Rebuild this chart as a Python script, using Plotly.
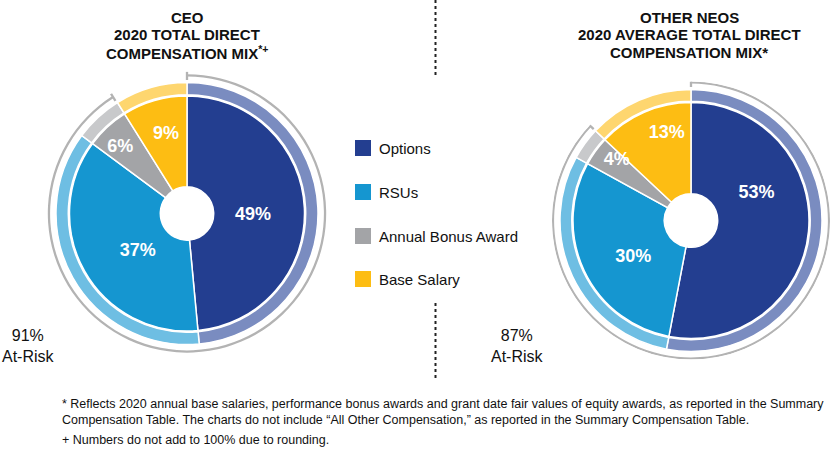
import numpy as np
import plotly.graph_objects as go

# ---------------- data ----------------
categories = ["Options", "RSUs", "Annual Bonus Award", "Base Salary"]
ceo_values = [49, 37, 6, 9]
neo_values = [53, 30, 4, 13]
ceo_at_risk = 91
neo_at_risk = 87
ceo_title = ["CEO", "2020 TOTAL DIRECT", "COMPENSATION MIX<sup>*+</sup>"]
neo_title = ["OTHER NEOS", "2020 AVERAGE TOTAL DIRECT", "COMPENSATION MIX*"]
footnotes = [
    "* Reflects 2020 annual base salaries, performance bonus awards and grant date fair values of equity awards, as reported in the Summary",
    "Compensation Table. The charts do not include \u201cAll Other Compensation,\u201d as reported in the Summary Compensation Table.",
    "+ Numbers do not add to 100% due to rounding.",
]

# ---------------- style ----------------
inner_colors = ["#233E90", "#1596D0", "#A3A4A7", "#FDBD13"]
ring_colors = ["#7A8CC0", "#6EBEE3", "#C8C9CB", "#FED66F"]
arc_color = "#B3B3B3"
FONT = "Arial, Liberation Sans, Helvetica, sans-serif"
W, H = 830, 450

charts = [
    dict(values=ceo_values, at_risk=ceo_at_risk, title=ceo_title, cx=187, cy=213.5, D=142,
         r_hole=26.7, r_in=117.5, r_ring=131, tx=187,
         lab_r=[66, 62, 94, 82], lab_dt=[4, -8, -2.4, 1.2], risk_x=28.5),
    dict(values=neo_values, at_risk=neo_at_risk, title=neo_title, cx=691, cy=220.5, D=139,
         r_hole=26.7, r_in=118, r_ring=131, tx=689,
         lab_r=[71, 68.6, 95.4, 90], lab_dt=[-27.9, -7.6, 2.8, 7.7], risk_x=517.5),
]

fig = go.Figure()
annotations = []
shapes = []
layout_polars = {}

for i, c in enumerate(charts):
    pkey = "polar" if i == 0 else f"polar{i+1}"
    vals = np.array(c["values"], dtype=float)
    widths = vals / vals.sum() * 360.0
    mids = np.cumsum(widths) - widths / 2.0

    # inner pie slices
    fig.add_trace(go.Barpolar(
        r=[c["r_in"] - c["r_hole"]] * len(vals), base=c["r_hole"], theta=mids, width=widths,
        marker=dict(color=inner_colors, line=dict(color="white", width=1.5)),
        subplot=pkey, showlegend=False, hoverinfo="skip"))
    # outer lighter ring
    ring_base = c["r_in"] + 1.2
    fig.add_trace(go.Barpolar(
        r=[c["r_ring"] - ring_base] * len(vals), base=ring_base, theta=mids, width=widths,
        marker=dict(color=ring_colors, line=dict(color="white", width=1.5)),
        subplot=pkey, showlegend=False, hoverinfo="skip"))
    # at-risk arc
    arc_w = c["at_risk"] * 3.6
    fig.add_trace(go.Barpolar(
        r=[2.3], base=136.9, theta=[arc_w / 2.0], width=[arc_w],
        marker=dict(color=arc_color, line=dict(width=0)),
        subplot=pkey, showlegend=False, hoverinfo="skip"))
    fig.add_trace(go.Scatterpolar(
        r=[133.5, 142, None, 133.5, 142], theta=[0, 0, None, arc_w, arc_w],
        mode="lines", line=dict(color=arc_color, width=2.3), cliponaxis=False,
        subplot=pkey, showlegend=False, hoverinfo="skip"))
    # percentage labels
    fig.add_trace(go.Scatterpolar(
        r=c["lab_r"], theta=mids + np.array(c["lab_dt"]), mode="text",
        text=[f"{int(v)}%" for v in vals], textposition="middle center",
        textfont=dict(family=FONT, size=18, color="white", weight="bold"),
        cliponaxis=False, subplot=pkey, showlegend=False, hoverinfo="skip"))

    D = c["D"]
    layout_polars[pkey] = dict(
        domain=dict(x=[(c["cx"] - D) / W, (c["cx"] + D) / W],
                    y=[(H - c["cy"] - D) / H, (H - c["cy"] + D) / H]),
        bgcolor="rgba(0,0,0,0)", barmode="overlay", bargap=0,
        radialaxis=dict(range=[0, D], visible=False),
        angularaxis=dict(rotation=90, direction="clockwise", showgrid=False, showline=False,
                         showticklabels=False, ticks=""),
    )

    # titles
    for k, line in enumerate(c["title"]):
        annotations.append(dict(x=c["tx"] / W, y=(H - (17 + 18 * k)) / H, xref="paper", yref="paper",
                                text=f"<b>{line}</b>", showarrow=False, xanchor="center", yanchor="middle",
                                font=dict(family=FONT, size=15, color="#111111")))
    # at-risk label
    annotations.append(dict(x=c["risk_x"] / W, y=(H - 346) / H, xref="paper", yref="paper",
                            text=f"{c['at_risk']}%<br>At-Risk", showarrow=False,
                            xanchor="center", yanchor="middle",
                            font=dict(family=FONT, size=16, color="#111111")))

# legend
legend_rows = [148, 192, 236, 279]
for k, cat in enumerate(categories):
    y = legend_rows[k]
    shapes.append(dict(type="rect", xref="paper", yref="paper",
                       x0=355 / W, x1=371 / W, y0=(H - y - 8) / H, y1=(H - y + 8) / H,
                       fillcolor=inner_colors[k], line=dict(width=0)))
    annotations.append(dict(x=377 / W, y=(H - y) / H, xref="paper", yref="paper", text=cat,
                            showarrow=False, xanchor="left", yanchor="middle",
                            font=dict(family=FONT, size=15, color="#111111")))

# dotted divider
for (y0, y1) in [(0, 75), (303, 378)]:
    shapes.append(dict(type="line", xref="paper", yref="paper", x0=435.5 / W, x1=435.5 / W,
                       y0=(H - y0) / H, y1=(H - y1) / H,
                       line=dict(color="#222222", width=2, dash="dot")))

# footnotes
for k, (txt, y) in enumerate(zip(footnotes, [404, 420, 440])):
    annotations.append(dict(x=60 / W, y=(H - y) / H, xref="paper", yref="paper", text=txt,
                            showarrow=False, xanchor="left", yanchor="middle",
                            font=dict(family=FONT, size=12.5, color="#111111")))

fig.update_layout(
    width=W, height=H, margin=dict(l=0, r=0, t=0, b=0),
    paper_bgcolor="white", plot_bgcolor="white",
    annotations=annotations, shapes=shapes, showlegend=False,
    **layout_polars,
)

fig.write_html("out.html", config={"displayModeBar": False},
               post_script="document.body.style.margin='0px';document.body.style.overflow='hidden';")
